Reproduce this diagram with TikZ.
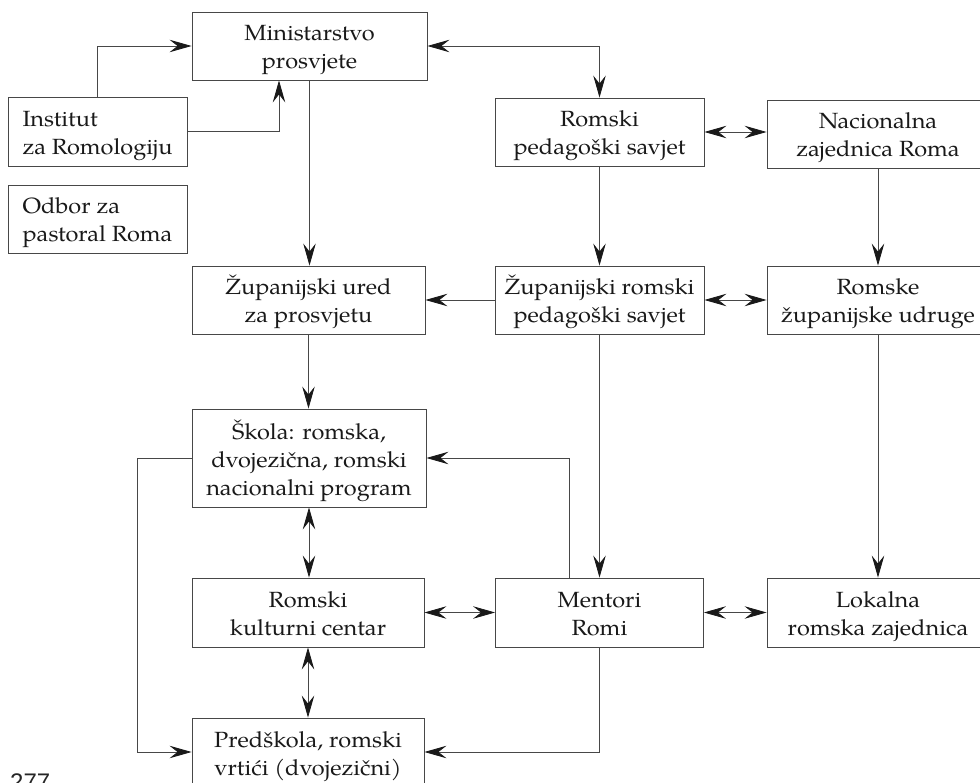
\documentclass[tikz,border=0pt]{standalone}
\usepackage{fontspec}
\setmainfont{TeX Gyre Pagella}[FakeStretch=1.07]
\newfontfamily\pagenumfont{Liberation Sans}
\usetikzlibrary{arrows.meta}
\newcommand\boxlines[3]{\raisebox{#1}[0pt][0pt]{\begin{tabular}[t]{@{}#2@{}}#3\end{tabular}}}
\tikzset{
  box/.style={draw=black!72, line width=0.9pt, rectangle, inner sep=0pt,
    font=\fontsize{22}{28}\selectfont, text=black!90},
  conn/.style={draw=black!72, line width=0.8pt},
  tip/.tip={Stealth[length=22pt,width=12.5pt,inset=8pt,color=black!90,fill=black!90]},
  one/.style={conn,-{tip}},
  two/.style={conn,{tip}-{tip}},
}
\begin{document}
\begin{tikzpicture}[x=1pt,y=-1pt]
\useasboundingbox (0,0) rectangle (980,783);
\fill[white] (0,0) rectangle (980,783);
\clip (0,0) rectangle (980,783);
% boxes
\node[box, minimum width=235pt, minimum height=68pt] (min) at (309.5,46) {\boxlines{5pt}{c}{Ministarstvo\\prosvjete}};
\node[box, minimum width=179pt, minimum height=69pt] (inst) at (97.5,131.5) {\boxlines{5pt}{l}{Institut\\za Romologiju}};
\node[box, minimum width=179pt, minimum height=68pt] (odbor) at (97.5,219) {\boxlines{5pt}{l}{Odbor za\\pastoral Roma}};
\node[box, minimum width=209pt, minimum height=68pt] (rps) at (599.5,132) {\boxlines{5pt}{c}{Romski\\pedagoški savjet}};
\node[box, minimum width=222pt, minimum height=68pt] (nzr) at (878,134) {\boxlines{5pt}{c}{Nacionalna\\zajednica Roma}};
\node[box, minimum width=233pt, minimum height=68pt] (zu) at (308.5,300) {\boxlines{5pt}{c}{Županijski ured\\za prosvjetu}};
\node[box, minimum width=209pt, minimum height=68pt] (zrps) at (599.5,300) {\boxlines{5pt}{c}{Županijski romski\\pedagoški savjet}};
\node[box, minimum width=222pt, minimum height=68pt] (rzu) at (878,300) {\boxlines{5pt}{c}{Romske\\županijske udruge}};
\node[box, minimum width=234pt, minimum height=98pt] (skola) at (309,458) {\boxlines{19pt}{c}{Škola: romska,\\dvojezična, romski\\nacionalni program}};
\node[box, minimum width=232pt, minimum height=69pt] (rkc) at (308,612.5) {\boxlines{5pt}{c}{Romski\\kulturni centar}};
\node[box, minimum width=208pt, minimum height=69pt] (ment) at (599.5,612.5) {\boxlines{5pt}{c}{Mentori\\Romi}};
\node[box, minimum width=222pt, minimum height=69pt] (lok) at (878,612.5) {\boxlines{5pt}{c}{Lokalna\\romska zajednica}};
\node[box, minimum width=232pt, minimum height=68pt] (pred) at (308,752) {\boxlines{5pt}{c}{Predškola, romski\\vrtići (dvojezični)}};
% page number
\node[anchor=base west, inner sep=0pt, font=\pagenumfont\fontsize{24}{28}\selectfont, text=black!85] (pg) at (10,790) {277};
% connectors
\draw[one] (inst.north) |- (min.west);
\draw[one] (inst.east) -| ([xshift=-30.5pt]min.south);
\draw[two] (min.east) -| (rps.north);
\draw[one] (min.south) -- (min.south |- zu.north);
\draw[two] (rps.east) -- (rps.east -| nzr.west);
\draw[one] (rps.south) -- (zrps.north);
\draw[one] (nzr.south) -- (rzu.north);
\draw[one] (zrps.west) -- (zu.east);
\draw[two] (zrps.east) -- (rzu.west);
\draw[one] (zu.south) -- (zu.south |- skola.north);
\draw[one] (skola.west) -- ++(-54,0) |- (pred.west);
\draw[one] ([xshift=-30.5pt]ment.north) |- (skola.east);
\draw[two] (skola.south) -- (skola.south |- rkc.north);
\draw[two] (rkc.east) -- (ment.west);
\draw[one] (zrps.south) -- (ment.north);
\draw[two] (ment.east) -- (lok.west);
\draw[one] (rzu.south) -- (lok.north);
\draw[two] (rkc.south) -- (pred.north);
\draw[one] (ment.south) |- (pred.east);
\end{tikzpicture}
\end{document}
